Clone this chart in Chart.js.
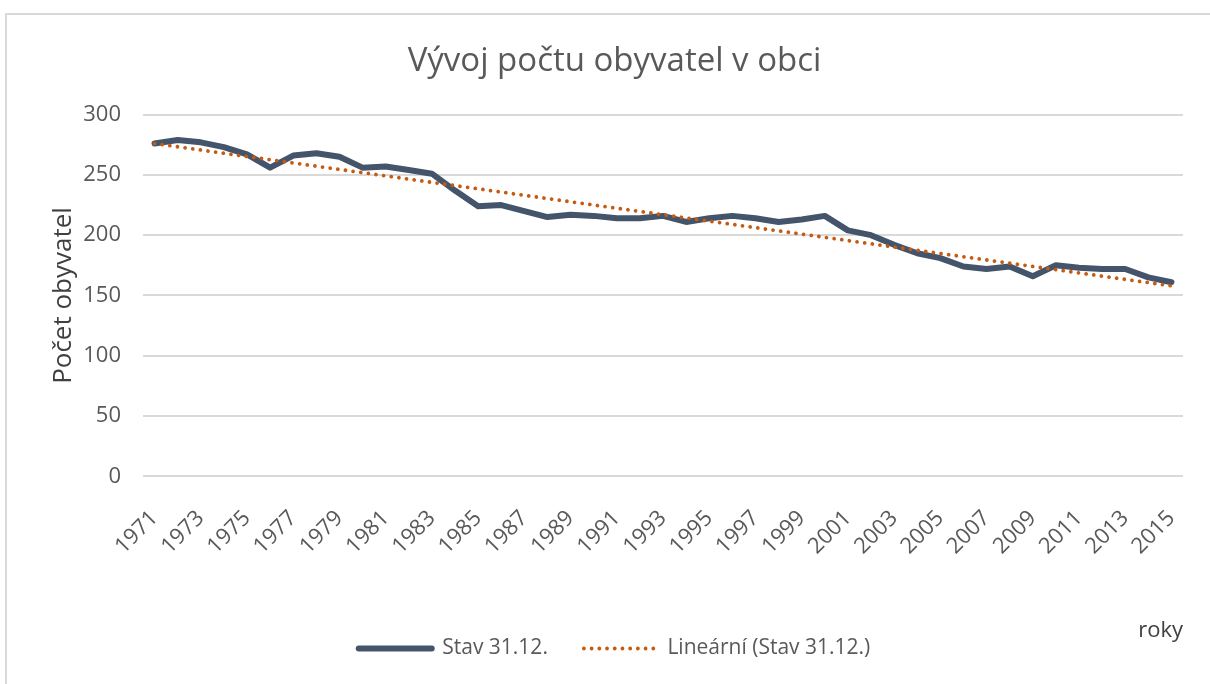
<!DOCTYPE html>
<html>
<head>
<meta charset="utf-8">
<script src="https://cdn.jsdelivr.net/npm/chart.js@4.4.1/dist/chart.umd.min.js"></script>
<style>
  html, body { margin: 0; padding: 0; background: #fff; overflow: hidden; width: 1210px; height: 684px; }
  #frame { position: absolute; left: 5px; top: 13px; width: 1300px; height: 800px; border: 2px solid #D9D9D9; box-sizing: border-box; }
  #c { position: absolute; left: 7px; top: 15px; }
</style>
</head>
<body>
<div id="frame"></div>
<canvas id="c" width="1215" height="669"></canvas>
<script>
const chartTitle = 'Vývoj počtu obyvatel v obci';
const yAxisTitle = 'Počet obyvatel';
const xAxisTitle = 'roky';
const seriesName = 'Stav 31.12.';
const trendName = 'Lineární (Stav 31.12.)';

const years = ['1971','1972','1973','1974','1975','1976','1977','1978','1979','1980',
  '1981','1982','1983','1984','1985','1986','1987','1988','1989','1990',
  '1991','1992','1993','1994','1995','1996','1997','1998','1999','2000',
  '2001','2002','2003','2004','2005','2006','2007','2008','2009','2010',
  '2011','2012','2013','2014','2015'];

const population = [276,279,277,273,267,256,266,268,265,256,
  257,254,251,237,224,225,220,215,217,216,
  214,214,216,211,214,216,214,211,213,216,
  204,200,192,185,181,174,172,174,166,175,
  173,172,172,165,161];

const trendStart = 276;
const trendEnd = 158;

const yTicks = [0, 50, 100, 150, 200, 250, 300];

const trendValues = years.map((y, i) => i === 0 ? trendStart : (i === years.length - 1 ? trendEnd : null));

Chart.defaults.font.family = "'Open Sans', sans-serif";

new Chart(document.getElementById('c'), {
  type: 'line',
  data: {
    labels: years,
    datasets: [
      {
        label: seriesName,
        data: population,
        borderColor: '#44546A',
        backgroundColor: '#44546A',
        borderWidth: 6,
        borderJoinStyle: 'round',
        borderCapStyle: 'round',
        pointRadius: 0,
        pointStyle: 'line',
        tension: 0,
        order: 2
      },
      {
        label: trendName,
        data: trendValues,
        spanGaps: true,
        borderColor: '#C55A11',
        backgroundColor: '#C55A11',
        borderWidth: 3.8,
        borderDash: [0.01, 7.7],
        borderCapStyle: 'round',
        pointRadius: 0,
        pointStyle: 'line',
        tension: 0,
        order: 1
      }
    ]
  },
  options: {
    responsive: false,
    animation: false,
    layout: { padding: { left: 39, right: 39, top: 0, bottom: 15 } },
    plugins: {
      title: {
        display: true,
        text: chartTitle,
        color: '#595959',
        font: { size: 33, weight: 'normal' },
        padding: { top: 27, bottom: 33 }
      },
      legend: {
        position: 'bottom',
        labels: {
          usePointStyle: true,
          pointStyleWidth: 73,
          color: '#595959',
          font: { size: 21 },
          padding: 36,
          sort: (a, b) => a.datasetIndex - b.datasetIndex,
          generateLabels: function (chart) {
            const items = Chart.defaults.plugins.legend.labels.generateLabels(chart);
            items.forEach(it => {
              const ds = chart.data.datasets[it.datasetIndex];
              it.lineDash = ds.borderDash || [];
              it.lineCap = ds.borderCapStyle;
              it.lineWidth = ds.borderWidth;
              it.strokeStyle = ds.borderColor;
            });
            return items;
          }
        }
      },
      tooltip: { enabled: false }
    },
    scales: {
      x: {
        offset: true,
        grid: { display: false },
        border: { display: false },
        afterFit: function (axis) { axis.paddingLeft = 0; axis.paddingRight = 0; },
        ticks: {
          autoSkip: false,
          minRotation: 45,
          maxRotation: 45,
          color: '#595959',
          font: { size: 22 },
          padding: 21,
          callback: function (value, index) { return index % 2 === 0 ? years[index] : ''; }
        },
        title: {
          display: true,
          text: xAxisTitle,
          align: 'end',
          color: '#404040',
          font: { size: 22 },
          padding: { top: 37, bottom: -42 }
        }
      },
      y: {
        min: 0,
        max: 300,
        afterBuildTicks: function (axis) { axis.ticks = yTicks.map(v => ({ value: v })); },
        afterFit: function (axis) { axis.width = 97; },
        grid: { color: '#D9D9D9', lineWidth: 2, drawTicks: false },
        border: { display: false },
        ticks: {
          color: '#595959',
          font: { size: 22 },
          padding: 22
        },
        title: {
          display: true,
          text: yAxisTitle,
          color: '#404040',
          font: { size: 26 },
          padding: { top: 2, bottom: 7 }
        }
      }
    }
  }
});
</script>
</body>
</html>
